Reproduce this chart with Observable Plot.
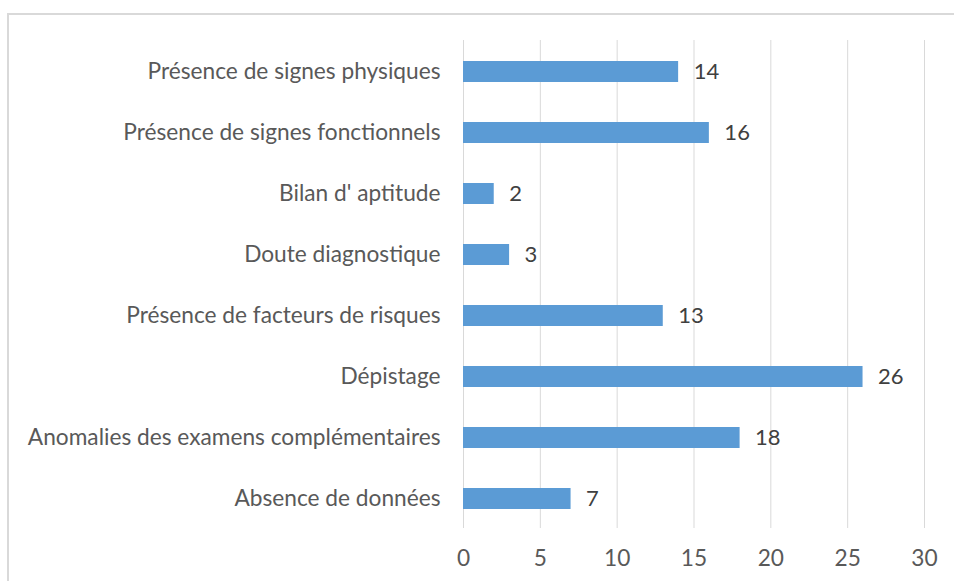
<!DOCTYPE html>
<html>
<head>
<meta charset="utf-8">
<script src="https://cdn.jsdelivr.net/npm/d3@7"></script>
<script src="https://cdn.jsdelivr.net/npm/@observablehq/plot@0.6"></script>
<style>
  html, body { margin: 0; padding: 0; background: #fff; }
  #wrap { position: relative; width: 954px; height: 581px; overflow: hidden; }
  #border { position: absolute; left: 7px; top: 13px; right: -10px; bottom: -10px;
            border-top: 2px solid #d9d9d9; border-left: 2px solid #d9d9d9; }
  #chart { position: absolute; left: 0; top: 0; }
</style>
</head>
<body>
<div id="wrap"><div id="border"></div><div id="chart"></div></div>
<script>
const categories = [
  "Présence de signes physiques",
  "Présence de signes fonctionnels",
  "Bilan d' aptitude",
  "Doute diagnostique",
  "Présence de facteurs de risques",
  "Dépistage",
  "Anomalies des examens complémentaires",
  "Absence de données"
];
const values = [14, 16, 2, 3, 13, 26, 18, 7];
const xTicks = [0, 5, 10, 15, 20, 25, 30];

const data = categories.map((c, i) => ({category: c, value: values[i]}));

const chart = Plot.plot({
  width: 954,
  height: 581,
  marginLeft: 463,
  marginRight: 30,
  marginTop: 40,
  marginBottom: 53,
  style: {fontFamily: "Lato, sans-serif", fontSize: "22.7px", color: "#595959", background: "transparent"},
  x: {domain: [0, 30], ticks: xTicks, label: null, tickSize: 0, tickPadding: 21},
  y: {domain: categories, label: null, tickSize: 0, tickPadding: 23, paddingInner: 0.65, paddingOuter: 0.3, insetTop: 2},
  marks: [
    Plot.gridX(xTicks, {stroke: "#d9d9d9", strokeOpacity: 1, strokeWidth: 1}),
    Plot.barX(data, {x: "value", y: "category", fill: "#5b9bd5"}),
    Plot.text(data, {x: "value", y: "category", text: d => String(d.value), dx: 15, textAnchor: "start", fill: "#404040", fontSize: 22})
  ]
});
document.getElementById("chart").appendChild(chart);
</script>
</body>
</html>
